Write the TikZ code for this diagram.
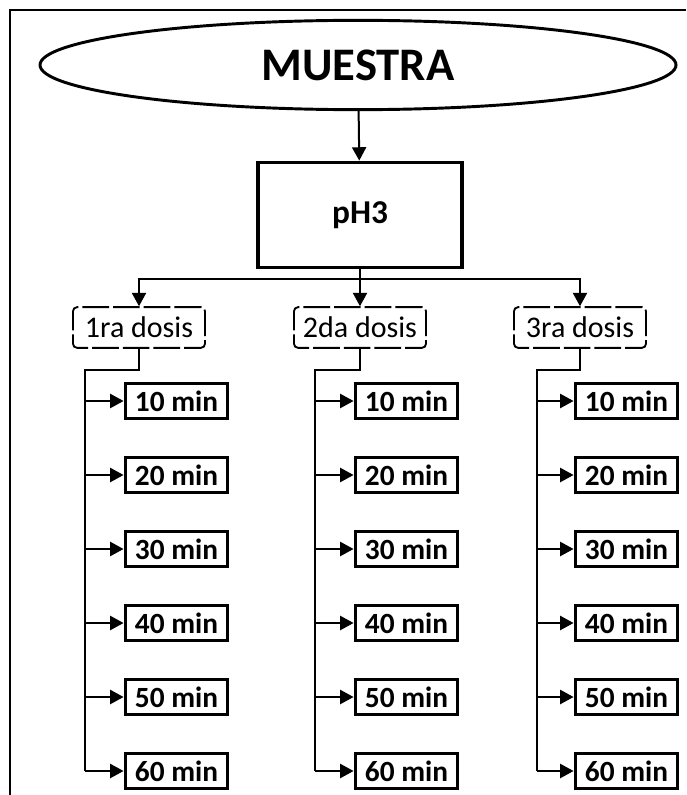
\documentclass[tikz,border=0pt]{standalone}
\usepackage{fontspec}
\setmainfont{Carlito}
\usetikzlibrary{arrows.meta,shapes.geometric}

\begin{document}
\begin{tikzpicture}[
x=0.75pt, y=-0.75pt,
line width=1.5pt,
>={Triangle[length=10pt,width=10.5pt]},
]
% \draw [help lines] (0,0) grid (686,795);
\useasboundingbox (0,0) rectangle (686,795);

\tikzset{
	elip/.style={draw, ellipse, line width=2.2pt, minimum width=477pt, minimum height=67pt, inner sep=0pt, font=\fontsize{35}{38}\selectfont\bfseries},
	caja/.style={draw, line width=2.6pt, minimum width=153pt, minimum height=79pt, font=\fontsize{25}{28}\selectfont\bfseries},
	dosis/.style={draw, rounded corners=3pt, line width=1.4pt, dash pattern=on 20pt off 3pt, minimum width=99pt, minimum height=30.5pt, inner sep=0pt, font=\fontsize{22.5}{25}\selectfont},
	mins/.style={draw, line width=2.4pt, minimum width=77pt, minimum height=26pt, inner sep=0pt, font=\fontsize{22}{25}\selectfont\bfseries},
}

% marco
\draw[line width=0.8pt] (10,795) -- (10,10) -- (686,10);

\node[elip] (muestra) at (358,65) {MUESTRA};
\node[caja] (ph) at (360,215) {pH3};
\draw[->] (muestra) -- (ph);

\node[dosis] (d1) at (139,327.5) {1ra dosis};
\node[dosis] (d2) at (360,327.5) {2da dosis};
\node[dosis] (d3) at (580,327.5) {3ra dosis};

\draw (ph.south) -- ++(0,10) coordinate (h);
\draw[->] (h) -| (d1.north);
\draw[->] (h) -- (d2.north);
\draw[->] (h) -| (d3.north);

% tiempos
\foreach \d/\lx/\bx in {1/85/176.5, 2/315/406.5, 3/537/626.5}{
	\coordinate (c\d) at (\lx,370);
	\foreach \k in {1,...,6}{
		\node[mins] (m\d\k) at (\bx,{401+74*(\k-1)}) {\k0 min};
		\draw[->] (c\d |- m\d\k.west) -- (m\d\k.west);
	}
	\draw (d\d.south) |- (c\d) -- (c\d |- m\d6.west);
}

\end{tikzpicture}
\end{document}
